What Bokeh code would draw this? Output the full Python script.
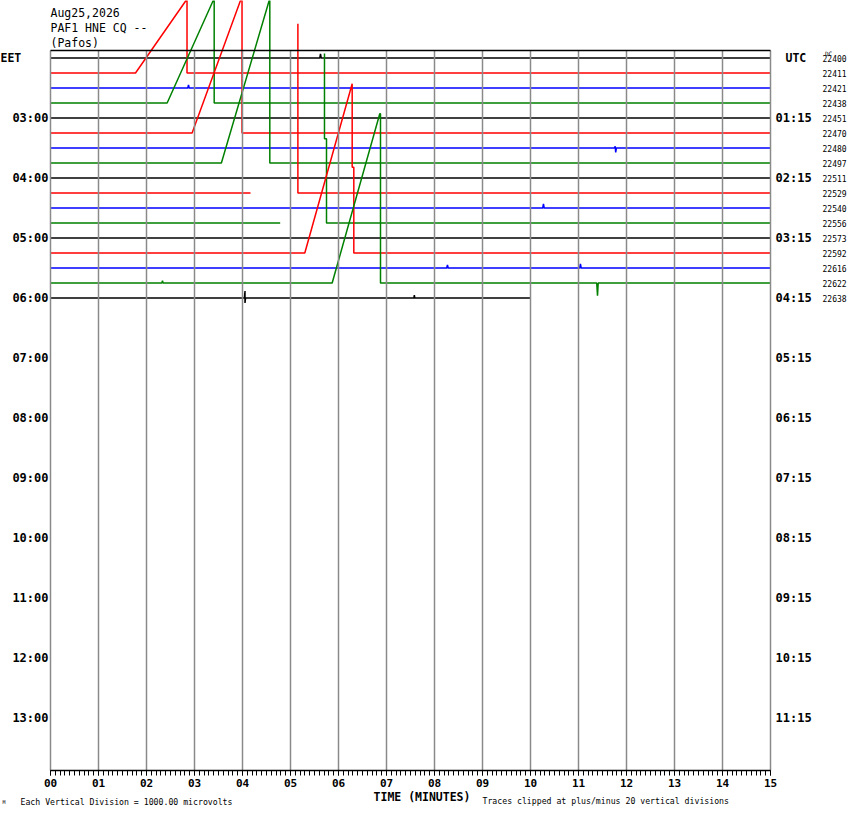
from bokeh.plotting import figure
from bokeh.models import Range1d, LinearAxis, FixedTicker, Label
from bokeh.embed import file_html
from bokeh.resources import INLINE

nan = float("nan")

# ---------------- text / tick data ----------------
date_text = "Aug25,2026"
station_text = "PAF1 HNE CQ --"
place_text = "(Pafos)"

minute_ticks = [0, 1, 2, 3, 4, 5, 6, 7, 8, 9, 10, 11, 12, 13, 14, 15]
minute_labels = ["00", "01", "02", "03", "04", "05", "06", "07",
                 "08", "09", "10", "11", "12", "13", "14", "15"]

hour_rows = [4, 8, 12, 16, 20, 24, 28, 32, 36, 40, 44]
eet_labels = ["03:00", "04:00", "05:00", "06:00", "07:00", "08:00",
              "09:00", "10:00", "11:00", "12:00", "13:00"]
utc_labels = ["01:15", "02:15", "03:15", "04:15", "05:15", "06:15",
              "07:15", "08:15", "09:15", "10:15", "11:15"]

row_counts = ["22400", "22411", "22421", "22438", "22451", "22470", "22480",
              "22497", "22511", "22529", "22540", "22556", "22573", "22592",
              "22616", "22622", "22638"]

trace_colors = ["#000000", "#ff0000", "#0000ff", "#008000"]

# ---------------- traces: time (minutes) and amplitude (divisions) -------
tr00_x = [0, 5.61, 5.625, 5.64, 15]
tr00_a = [0, 0, 0.27, 0, 0]
tr01_x = [0, 1.771, 2.823, 2.844, 2.844, 15]
tr01_a = [0, 0, 4.83, 4.83, 0, 0]
tr02_x = [0, 2.86, 2.875, 2.89, 15]
tr02_a = [0, 0, 0.2, 0, 0]
tr03_x = [0, 2.43, 3.39, 3.41, 3.41, 15]
tr03_a = [0, 0, 6.83, 6.83, 0, 0]
tr04_x = [0, 15]
tr04_a = [0, 0]
tr05_x = [0, 2.95, 3.958, 3.99, 3.99, 15]
tr05_a = [0, 0, 8.83, 8.83, 0, 0]
tr06_x = [0, 11.75, 11.765, 11.775, 11.79, 15]
tr06_a = [0, 0, 0.12, -0.3, 0, 0]
tr07_x = [0, 3.56, 4.556, 4.569, 4.569, 15]
tr07_a = [0, 0, 10.83, 10.83, 0, 0]
tr08_x = [0, 15]
tr08_a = [0, 0]
tr09_x = [0, 4.167, nan, 5.154, 5.154, 15]
tr09_a = [0, 0, nan, 11.28, 0, 0]
tr10_x = [0, 10.255, 10.27, 10.285, 15]
tr10_a = [0, 0, 0.27, 0, 0]
tr11_x = [0, 4.785, nan, 5.708, 5.708, 5.75, 5.75, 15]
tr11_a = [0, 0, nan, 11.3, 5.61, 5.61, 0, 0]
tr12_x = [0, 15]
tr12_a = [0, 0]
tr13_x = [0, 5.298, 6.285, 6.285, 6.319, 6.319, 15]
tr13_a = [0, 0, 11.28, 5.72, 5.72, 0, 0]
tr14_x = [0, 8.255, 8.27, 8.285, 11.025, 11.04, 11.055, 15]
tr14_a = [0, 0, 0.2, 0, 0, 0.27, 0, 0]
tr15_x = [0, 2.32, 2.333, 2.346, 5.868, 6.86, 6.875, 6.875,
          11.38, 11.396, 11.41, 15]
tr15_a = [0, 0, 0.15, 0, 0, 11.28, 11.28, 0, 0, -0.85, 0, 0]
tr16_x = [0, 4.04, 4.052, 4.052, 4.064, 7.57, 7.58, 7.59, 10.0]
tr16_a = [0, 0, 0.47, -0.33, 0, 0, 0.2, 0, 0]

traces = [(tr00_x, tr00_a), (tr01_x, tr01_a), (tr02_x, tr02_a), (tr03_x, tr03_a),
          (tr04_x, tr04_a), (tr05_x, tr05_a), (tr06_x, tr06_a), (tr07_x, tr07_a),
          (tr08_x, tr08_a), (tr09_x, tr09_a), (tr10_x, tr10_a), (tr11_x, tr11_a),
          (tr12_x, tr12_a), (tr13_x, tr13_a), (tr14_x, tr14_a), (tr15_x, tr15_a),
          (tr16_x, tr16_a)]

N_ROWS = 48  # 02:00 .. 14:00 in 15-minute rows
W, H = 850, 814


# helpers for placing texts (page pixel -> data)
def px_x(x):
    return (x - 50.0) / 48.0


def px_y(y):
    return -(y - 57.5) / 15.0


p = figure(width=W, height=H,
           x_range=Range1d(px_x(0), px_x(W)), y_range=Range1d(px_y(H), px_y(0)),
           output_backend="svg", toolbar_location=None,
           x_axis_location=None, y_axis_location=None,
           min_border=0, min_border_left=0, min_border_right=0,
           min_border_top=0, min_border_bottom=0)
p.outline_line_color = None
p.grid.visible = False
p.background_fill_color = "white"
p.border_fill_color = "white"

bottom = -(N_ROWS - 0.5)
top = 0.5

# traces
for k, (xs, amps) in enumerate(traces):
    ys = [(-k + a) if a == a else nan for a in amps]
    p.line(xs, ys, line_color=trace_colors[k % 4], line_width=1.5)

# vertical minute grid lines
p.segment(x0=minute_ticks, y0=[bottom] * len(minute_ticks),
          x1=minute_ticks, y1=[top] * len(minute_ticks),
          line_color="#8a8a8a", line_width=1.5)

# top border
p.segment(x0=[minute_ticks[0]], y0=[top], x1=[minute_ticks[-1]], y1=[top],
          line_color="black", line_width=1.5)

# bottom time axis
minor = [i / 10.0 for i in range(151)]
xaxis = LinearAxis(ticker=FixedTicker(ticks=minute_ticks, minor_ticks=minor),
                   major_label_overrides=dict(zip(minute_ticks, minute_labels)),
                   fixed_location=bottom, bounds=(minute_ticks[0], minute_ticks[-1]))
xaxis.axis_line_color = "black"
xaxis.axis_line_width = 1.5
xaxis.major_tick_in = 0
xaxis.major_tick_out = 5
xaxis.minor_tick_in = 0
xaxis.minor_tick_out = 5
xaxis.major_tick_line_color = "black"
xaxis.minor_tick_line_color = "black"
xaxis.major_label_standoff = 3
xaxis.major_label_text_font = "DejaVu Sans Mono"
xaxis.major_label_text_font_style = "bold"
xaxis.major_label_text_font_size = "11px"
xaxis.major_label_text_color = "black"
p.add_layout(xaxis, "below")

# left EET axis, right UTC axis, row counter axis
laxis = LinearAxis(ticker=FixedTicker(ticks=[-r for r in hour_rows], minor_ticks=[]),
                   major_label_overrides={-r: lab for r, lab in zip(hour_rows, eet_labels)},
                   fixed_location=minute_ticks[0])
raxis = LinearAxis(ticker=FixedTicker(ticks=[-r for r in hour_rows], minor_ticks=[]),
                   major_label_overrides={-r: lab for r, lab in zip(hour_rows, utc_labels)},
                   fixed_location=minute_ticks[-1])
caxis = LinearAxis(ticker=FixedTicker(ticks=[-k for k in range(len(row_counts))], minor_ticks=[]),
                   major_label_overrides={-k: c for k, c in enumerate(row_counts)},
                   fixed_location=px_x(822))
for ax, standoff, size, bold in ((laxis, 2, "12px", True), (raxis, 5, "12px", True),
                                 (caxis, 0, "8px", False)):
    ax.axis_line_color = None
    ax.major_tick_line_color = None
    ax.minor_tick_line_color = None
    ax.major_tick_in = 0
    ax.major_tick_out = 0
    ax.major_label_standoff = standoff
    ax.major_label_text_font = "DejaVu Sans Mono"
    ax.major_label_text_font_style = "bold" if bold else "normal"
    ax.major_label_text_font_size = size
    ax.major_label_text_color = "black"
p.add_layout(laxis, "left")
p.add_layout(raxis, "right")
p.add_layout(caxis, "right")


def add_text(x, y, text, size, bold=False, align="left", font="DejaVu Sans Mono"):
    p.add_layout(Label(x=x, y=y, text=text, text_font=font,
                       text_font_size=size, text_font_style="bold" if bold else "normal",
                       text_align=align, text_baseline="middle", text_color="black"))


# title
add_text(px_x(50), px_y(12), date_text, "11.5px")
add_text(px_x(50), px_y(27), station_text, "11.5px")
add_text(px_x(50), px_y(42), place_text, "11.5px")

# zone names
add_text(px_x(0), 0, "EET", "11.5px", bold=True)
add_text(px_x(785), 0, "UTC", "11.5px", bold=True)
add_text(px_x(828), px_y(52.5), "DC", "6px", align="center")

# bottom notes
add_text(px_x(421.5), px_y(796), "TIME (MINUTES)", "11.5px", bold=True, align="center")
add_text(px_x(20), px_y(801), "Each Vertical Division = 1000.00 microvolts", "8.2px")
add_text(px_x(482), px_y(800.5), "Traces clipped at plus/minus 20 vertical divisions", "8.2px")
add_text(px_x(2), px_y(801), "M", "5px")

open("out.html", "w").write(file_html(p, INLINE))
